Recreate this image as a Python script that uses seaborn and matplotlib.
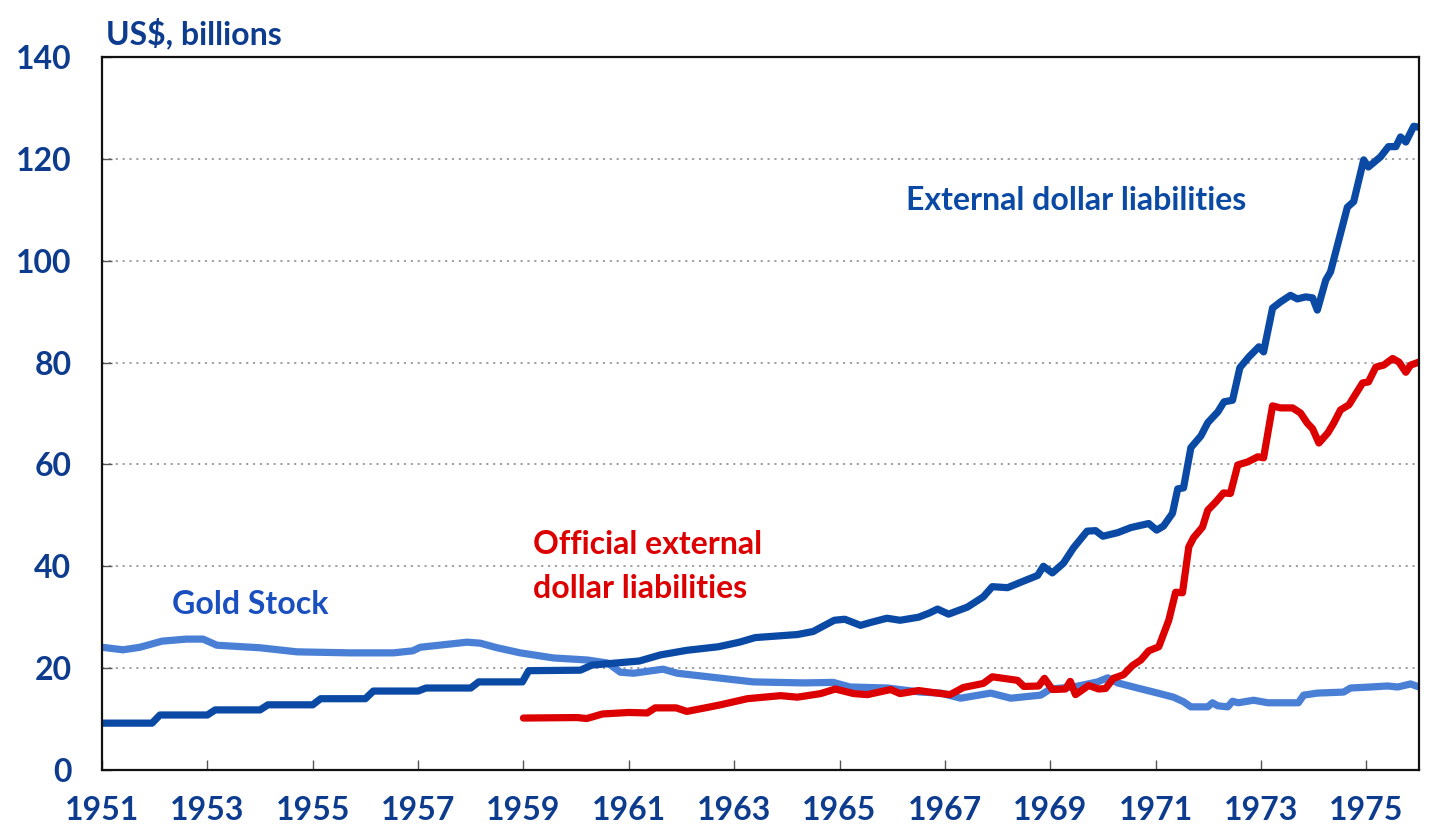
import numpy as np
import pandas as pd
import matplotlib
matplotlib.use("Agg")
import matplotlib.pyplot as plt
import seaborn as sns

# values (US$ billions)
ext_years = [1951.0, 1951.95, 1952.1, 1953.0, 1953.15, 1954.0, 1954.15, 1955.0, 1955.15,
             1956.0, 1956.15, 1957.0, 1957.15, 1958.0, 1958.15, 1958.98, 1959.1, 1960.08,
             1960.3, 1961.2, 1961.6, 1962.1, 1962.7, 1963.1, 1963.4, 1964.2, 1964.5, 1964.9,
             1965.1, 1965.4, 1965.6, 1965.9, 1966.15, 1966.5, 1966.7, 1966.86, 1967.07,
             1967.43, 1967.73, 1967.9, 1968.19, 1968.4, 1968.76, 1968.87, 1969.04, 1969.25,
             1969.44, 1969.7, 1969.86, 1970.0, 1970.28, 1970.53, 1970.7, 1970.87, 1971.02,
             1971.15, 1971.32, 1971.42, 1971.53, 1971.67, 1971.86, 1971.99, 1972.18, 1972.3,
             1972.46, 1972.6, 1972.77, 1972.96, 1973.05, 1973.22, 1973.37, 1973.56, 1973.69,
             1973.85, 1973.98, 1974.07, 1974.23, 1974.32, 1974.64, 1974.76, 1974.95, 1975.04,
             1975.27, 1975.42, 1975.56, 1975.65, 1975.75, 1975.9, 1976.0]
ext_values = [9.2, 9.2, 10.8, 10.8, 11.8, 11.8, 12.8, 12.8, 14.0,
              14.0, 15.5, 15.5, 16.1, 16.1, 17.3, 17.3, 19.5, 19.6,
              20.6, 21.4, 22.6, 23.5, 24.2, 25.1, 26.0, 26.6, 27.2, 29.4,
              29.6, 28.4, 29.0, 29.8, 29.4, 30.0, 30.8, 31.6, 30.6,
              32.0, 34.0, 36.0, 35.8, 36.7, 38.2, 40.0, 38.7, 40.6,
              43.6, 46.9, 47.0, 45.9, 46.6, 47.6, 48.0, 48.4, 47.1,
              47.9, 50.4, 55.2, 55.4, 63.3, 65.6, 68.2, 70.3, 72.3,
              72.6, 79.0, 81.1, 83.1, 82.1, 90.7, 91.9, 93.2, 92.5,
              92.9, 92.7, 90.3, 96.2, 97.8, 110.5, 111.6, 119.8, 118.4,
              120.4, 122.4, 122.4, 124.3, 123.3, 126.4, 126.2]

official_years = [1959.0, 1960.02, 1960.2, 1960.5, 1961.0, 1961.35, 1961.5, 1961.9, 1962.1,
                  1962.5, 1962.74, 1963.25, 1963.88, 1964.2, 1964.64, 1964.92, 1965.27,
                  1965.53, 1965.97, 1966.15, 1966.5, 1966.86, 1967.1, 1967.35, 1967.54,
                  1967.73, 1967.9, 1968.11, 1968.38, 1968.5, 1968.78, 1968.89, 1969.04,
                  1969.29, 1969.38, 1969.48, 1969.73, 1969.92, 1970.05, 1970.2, 1970.39,
                  1970.56, 1970.72, 1970.87, 1971.06, 1971.25, 1971.38, 1971.51, 1971.63,
                  1971.72, 1971.89, 1971.99, 1972.14, 1972.29, 1972.42, 1972.56, 1972.75,
                  1972.94, 1973.05, 1973.22, 1973.37, 1973.6, 1973.75, 1973.88, 1973.98,
                  1974.1, 1974.27, 1974.38, 1974.51, 1974.67, 1974.76, 1974.93, 1975.04,
                  1975.18, 1975.33, 1975.5, 1975.62, 1975.75, 1975.84, 1976.0]
official_values = [10.2, 10.3, 10.1, 11.0, 11.3, 11.2, 12.2, 12.2, 11.5,
                   12.3, 12.8, 14.0, 14.6, 14.3, 15.0, 15.9, 15.0,
                   14.8, 15.8, 15.0, 15.6, 15.1, 14.8, 16.2, 16.6,
                   17.0, 18.3, 18.0, 17.6, 16.4, 16.5, 18.0, 15.8,
                   15.9, 17.4, 14.8, 16.6, 15.9, 16.0, 18.0, 18.7,
                   20.5, 21.6, 23.4, 24.2, 29.4, 34.9, 34.8, 43.8,
                   45.6, 47.7, 51.0, 52.6, 54.4, 54.3, 59.9, 60.5,
                   61.5, 61.3, 71.5, 71.1, 71.1, 70.1, 68.1, 67.0,
                   64.2, 66.2, 68.1, 70.7, 71.7, 73.2, 76.0, 76.2,
                   79.1, 79.5, 80.8, 80.1, 78.1, 79.5, 80.1]

gold_years = [1951.0, 1951.4, 1951.72, 1952.14, 1952.6, 1952.92, 1953.18, 1954.0, 1954.7,
              1955.71, 1956.53, 1956.9, 1957.04, 1957.93, 1958.18, 1958.5, 1958.94, 1959.57,
              1960.21, 1960.6, 1960.84, 1961.09, 1961.65, 1961.92, 1962.68, 1963.36, 1964.31,
              1964.88, 1965.2, 1965.91, 1966.54, 1966.92, 1967.3, 1967.87, 1968.25, 1968.82,
              1969.0, 1969.44, 1969.9, 1970.09, 1970.28, 1970.58, 1971.04, 1971.34, 1971.53,
              1971.67, 1971.99, 1972.08, 1972.18, 1972.37, 1972.46, 1972.57, 1972.86, 1973.13,
              1973.71, 1973.81, 1974.07, 1974.57, 1974.7, 1975.08, 1975.4, 1975.6, 1975.84,
              1976.0]
gold_values = [24.1, 23.6, 24.1, 25.3, 25.7, 25.7, 24.5, 24.0, 23.2,
               23.0, 23.0, 23.4, 24.1, 25.1, 24.9, 24.0, 23.0, 22.0,
               21.6, 21.0, 19.2, 19.0, 19.8, 19.0, 18.1, 17.3, 17.1,
               17.2, 16.3, 16.1, 15.3, 15.1, 14.1, 15.1, 14.1, 14.7,
               15.9, 16.3, 17.3, 18.1, 17.1, 16.3, 15.1, 14.3, 13.4,
               12.4, 12.4, 13.2, 12.6, 12.4, 13.5, 13.2, 13.7, 13.2,
               13.2, 14.7, 15.1, 15.3, 16.1, 16.3, 16.5, 16.3, 16.9,
               16.3]

x_ticks = list(range(1951, 1976, 2))
y_ticks = list(range(0, 141, 20))

NAVY = "#0d3c8f"
DARK_BLUE = "#0a4aa5"
LIGHT_BLUE = "#4a7fd6"
RED = "#dc0000"

sns.set_theme(style="white")
plt.rcParams["font.family"] = ["Lato", "DejaVu Sans"]
plt.rcParams["font.weight"] = "bold"

fig = plt.figure(figsize=(14.56, 8.30), dpi=100)
ax = fig.add_axes([102 / 1456, 60 / 830, 1317 / 1456, 713 / 830])

gold = pd.DataFrame({"year": gold_years, "value": gold_values})
ext = pd.DataFrame({"year": ext_years, "value": ext_values})
off = pd.DataFrame({"year": official_years, "value": official_values})

line_kw = dict(lw=5.2, solid_capstyle="round", solid_joinstyle="round")
sns.lineplot(data=gold, x="year", y="value", ax=ax, color=LIGHT_BLUE, **line_kw)
sns.lineplot(data=off, x="year", y="value", ax=ax, color=RED, **line_kw)
sns.lineplot(data=ext, x="year", y="value", ax=ax, color=DARK_BLUE, **line_kw)

ax.set_xlim(1951, 1976)
ax.set_ylim(0, 140)
ax.set_xticks(x_ticks)
ax.set_yticks(y_ticks)
ax.set_xlabel("")
ax.set_ylabel("")

for yv in y_ticks[1:-1]:
    ax.axhline(yv, color="#9a9a9a", lw=1.3, ls=(0, (1.2, 2.6)), zorder=0)

ax.tick_params(axis="both", direction="in", length=7, width=1, color="#555555",
               labelsize=23, labelcolor=NAVY, bottom=True, left=True)
ax.tick_params(axis="x", pad=19)
ax.tick_params(axis="y", pad=22)
for lab in ax.get_xticklabels() + ax.get_yticklabels():
    lab.set_fontweight("bold")

for sp in ax.spines.values():
    sp.set_color("#111111")
    sp.set_linewidth(1.6)
    sp.set_visible(True)

fig.text(106 / 1456, 1 - 33 / 830, "US$, billions", ha="left", va="center",
         fontsize=23, fontweight="bold", color=NAVY)
ax.text(1969.49, 111.9, "External dollar liabilities", ha="center", va="center",
        fontsize=23, fontweight="bold", color=DARK_BLUE)
ax.text(1953.82, 32.4, "Gold Stock", ha="center", va="center",
        fontsize=23, fontweight="bold", color="#1a4fbf")
ax.text(1959.18, 44.2, "Official external", ha="left", va="center",
        fontsize=23, fontweight="bold", color=RED)
ax.text(1959.18, 35.7, "dollar liabilities", ha="left", va="center",
        fontsize=23, fontweight="bold", color=RED)

fig.savefig("out.png", dpi=100, facecolor="white")
